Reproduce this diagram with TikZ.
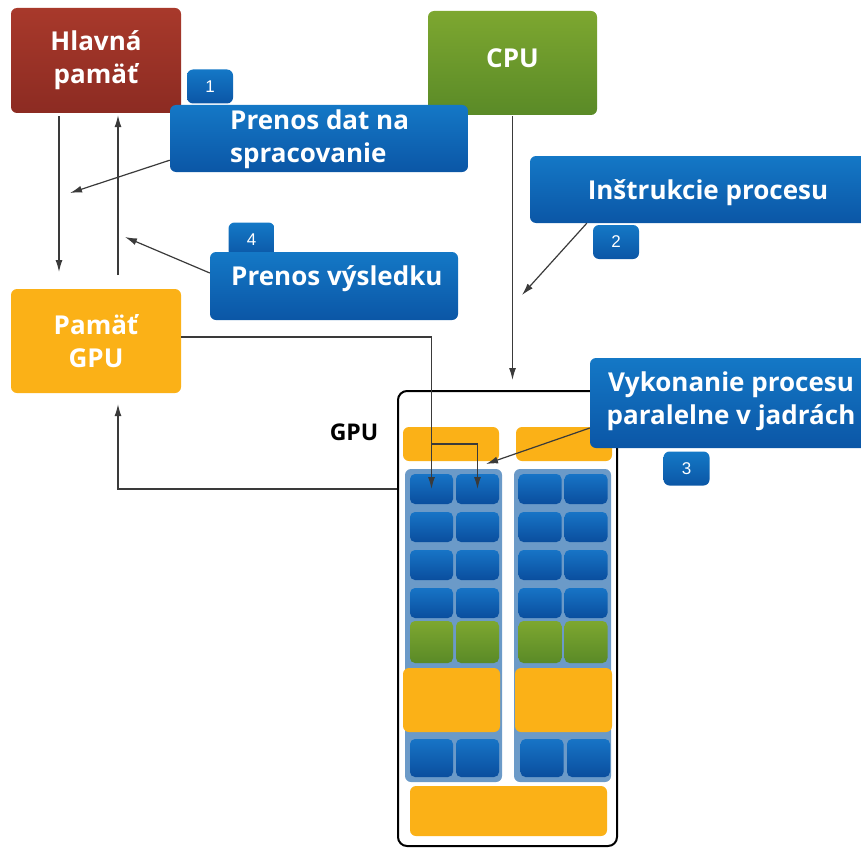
\documentclass[tikz,border=0pt]{standalone}
\usepackage{fontspec}
\setmainfont{Open Sans}
\newfontfamily\numfont{Liberation Sans}
\usetikzlibrary{arrows.meta}
\definecolor{bluetop}{HTML}{1478C6}
\definecolor{bluebot}{HTML}{0B56A6}
\definecolor{celltop}{HTML}{1774C6}
\definecolor{cellbot}{HTML}{0A4E9E}
\definecolor{panelc}{HTML}{6B9AC8}
\definecolor{orangec}{HTML}{FBB117}
\definecolor{greentop}{HTML}{7DA730}
\definecolor{greenbot}{HTML}{5A8A27}
\definecolor{redtop}{HTML}{A8392B}
\definecolor{redbot}{HTML}{8C2B22}
\definecolor{linec}{HTML}{3A3A3A}
\tikzset{
  blk/.style={rectangle, rounded corners=6pt, inner sep=0pt},
  bluebox/.style={blk, top color=bluetop, bottom color=bluebot, draw=none},
  badge/.style={blk, top color=bluetop, bottom color=bluebot, minimum width=46pt, minimum height=34pt,
     text=white, font=\numfont\fontsize{17}{17}\selectfont},
  txt/.style={text=white, font=\fontsize{26}{33}\selectfont\bfseries, inner sep=0pt},
  cell/.style={blk, rounded corners=5pt, top color=celltop, bottom color=cellbot, minimum width=43pt, minimum height=30pt},
  gcell/.style={blk, rounded corners=5pt, top color=greentop, bottom color=greenbot, minimum width=43pt, minimum height=42pt},
  obox/.style={blk, fill=orangec},
  panel/.style={blk, fill=panelc, minimum width=97pt, minimum height=313pt},
  arr/.style={draw=linec, line width=1.2pt, -{Latex[length=12pt,width=7pt]}},
  ln/.style={draw=linec, line width=1.2pt}
}
\begin{document}
\begin{tikzpicture}[x=1pt,y=-1pt]
\useasboundingbox (0,0) rectangle (861,848);

% main memory, CPU, GPU memory
\node[blk, top color=redtop, bottom color=redbot, minimum width=170pt, minimum height=105pt,
  txt, align=center] (hm) at (96,60.5) {Hlavná\\pamäť};
\node[blk, top color=greentop, bottom color=greenbot, minimum width=169pt, minimum height=104pt,
  txt] (cpu) at (512.5,63) {\raisebox{9pt}{CPU}};
\node[blk, fill=orangec, minimum width=170pt, minimum height=104pt,
  txt, align=center] (pg) at (96,341) {Pamäť\\GPU};

% GPU frame
\node[blk, rounded corners=9pt, draw=black, line width=2pt, fill=white, minimum width=219pt, minimum height=455pt] (gpu) at (507.5,618.5) {};
\node[font=\fontsize{23}{30}\selectfont\bfseries, text=black, inner sep=0pt] (gpul) at (354,432) {GPU};

% top bars
\node[obox, minimum width=96pt, minimum height=34pt] (tb1) at (451,444) {};
\node[obox, minimum width=96pt, minimum height=34pt] (tb2) at (564,444) {};
% panels
\node[panel] (p1) at (453.5,625.5) {};
\node[panel] (p2) at (562.5,625.5) {};
% cells
\foreach \r/\y in {1/489,2/527,3/565,4/603}{
  \node[cell] (c\r1) at (431.5,\y) {};
  \node[cell] (c\r2) at (477.5,\y) {};
  \node[cell] (d\r1) at (540,\y) {};
  \node[cell] (d\r2) at (586,\y) {};
}
\node[gcell] (g1) at (431.5,642) {};
\node[gcell] (g2) at (477.5,642) {};
\node[gcell] (g3) at (540,642) {};
\node[gcell] (g4) at (586,642) {};
\node[obox, minimum width=97pt, minimum height=64pt] (ob1) at (451.5,700) {};
\node[obox, minimum width=97pt, minimum height=64pt] (ob2) at (563.5,700) {};
\node[cell, minimum height=38pt] (e1) at (431.5,758) {};
\node[cell, minimum height=38pt] (e2) at (477.5,758) {};
\node[cell, minimum height=38pt] (e3) at (542,758) {};
\node[cell, minimum height=38pt] (e4) at (588.5,758) {};
\node[obox, minimum width=197pt, minimum height=50pt] (ob3) at (508.5,811) {};

% connectors GPU memory <-> cores
\draw[arr] ([yshift=4pt]pg.east) -| (c11.center);
\draw[arr] (c11 |- tb1) -| (c12.center);
\draw[arr, shorten >=11pt] (gpu.west |- c11) -| ([xshift=22pt]pg.south);

% main memory <-> GPU memory
\coordinate (dn) at (59,272);
\coordinate (up) at (118,275);
\draw[arr, shorten <=3pt] (hm.south -| dn) -- (dn);
\draw[arr, shorten >=2pt] (up) -- (up |- hm.south);

% CPU to GPU
\coordinate (cg) at (512.5,380);
\draw[arr, shorten <=1pt] (cpu.south) -- (cg);

% badges (behind boxes)
\node[badge] (n1) at (210,86.5) {1};
\node[badge] (n4) at (251.5,239.5) {4};
\node[badge] (n2) at (616,242) {2};
\node[badge] (n3) at (686.5,468.5) {3};

% callout boxes
\node[bluebox, minimum width=298pt, minimum height=67pt] (b1) at (319,138.5) {};
\node[txt, anchor=west, align=left] (t1) at (230,139) {Prenos dat na\\spracovanie};
\node[bluebox, minimum width=248pt, minimum height=68pt] (b4) at (334,286) {};
\node[txt, anchor=west] (t4) at (231,279) {Prenos výsledku};
\node[bluebox, minimum width=345pt, minimum height=67pt] (b2) at (702.5,189.5) {};
\node[txt] (t2) at (708,193) {Inštrukcie procesu};
\node[bluebox, minimum width=285pt, minimum height=90pt] (b3) at (732.5,403) {};
\node[txt, align=center] (t3) at (731,401) {Vykonanie procesu\\paralelne v jadrách};

% callout arrows
\coordinate (a1) at (70,193);
\coordinate (a4) at (125,237);
\coordinate (a2) at (522,295);
\coordinate (a3) at (486,464);
\draw[arr] ([yshift=12pt]b1.south west) -- (a1);
\draw[arr] ([yshift=13pt]b4.west) -- (a4);
\draw[arr] ([xshift=57pt]b2.south west) -- (a2);
\draw[arr] ([yshift=-25pt]b3.west) -- (a3);
\end{tikzpicture}
\end{document}
